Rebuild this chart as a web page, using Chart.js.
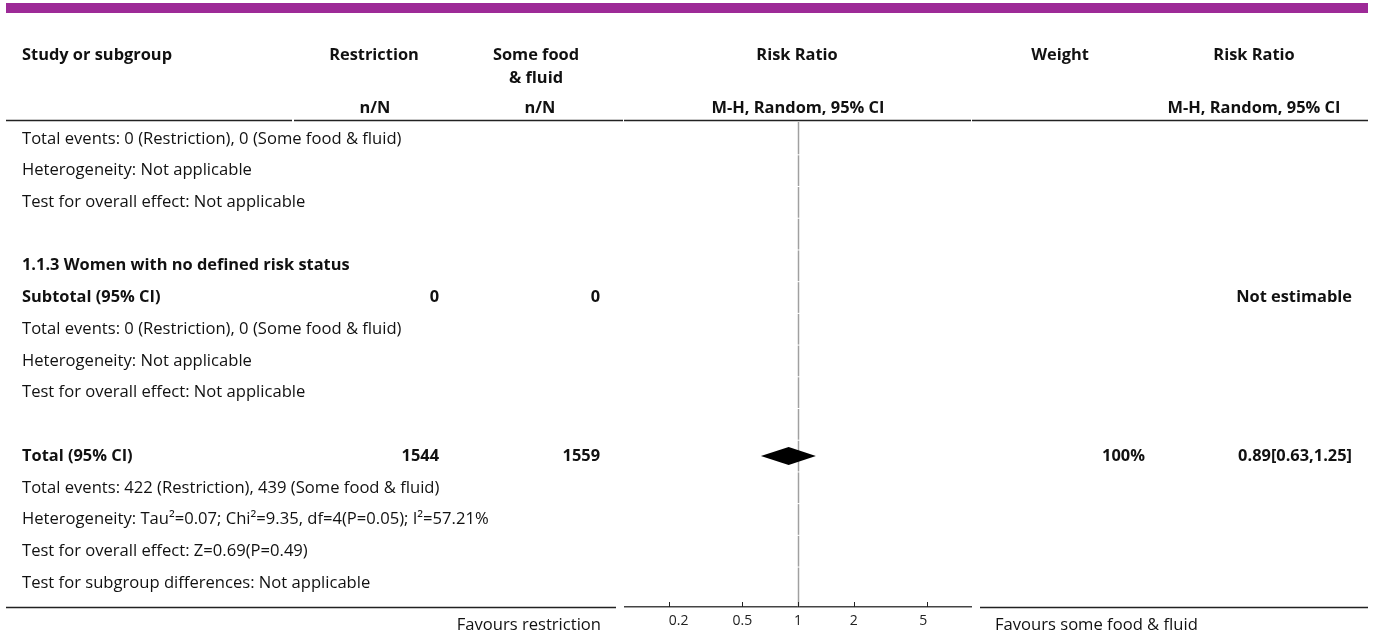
<!DOCTYPE html>
<html>
<head>
<meta charset="utf-8">
<script src="https://cdn.jsdelivr.net/npm/chart.js@4.4.1/dist/chart.umd.min.js"></script>
<style>
  html, body { margin: 0; padding: 0; background: #fff; }
  #wrap { width: 1375px; height: 637px; position: relative; }
</style>
</head>
<body>
<div id="wrap"><canvas id="forest" width="1375" height="637"></canvas></div>
<script>
// ---- Table rows (one entry per row of the forest plot) ----
const rowLabels = [
  "Total events: 0 (Restriction), 0 (Some food & fluid)",
  "Heterogeneity: Not applicable",
  "Test for overall effect: Not applicable",
  "",
  "1.1.3 Women with no defined risk status",
  "Subtotal (95% CI)",
  "Total events: 0 (Restriction), 0 (Some food & fluid)",
  "Heterogeneity: Not applicable",
  "Test for overall effect: Not applicable",
  "",
  "Total (95% CI)",
  "Total events: 422 (Restriction), 439 (Some food & fluid)",
  "Heterogeneity: Tau\u00B2=0.07; Chi\u00B2=9.35, df=4(P=0.05); I\u00B2=57.21%",
  "Test for overall effect: Z=0.69(P=0.49)",
  "Test for subgroup differences: Not applicable"
];
const boldRows = [4, 5, 10];
const restrictionN = ["", "", "", "", "", "0", "", "", "", "", "1544", "", "", "", ""];
const someFoodN    = ["", "", "", "", "", "0", "", "", "", "", "1559", "", "", "", ""];
const weightText   = ["", "", "", "", "", "", "", "", "", "", "100%", "", "", "", ""];
const notEstimableRows = [5];

// ---- Pooled estimate (risk ratio, 95% CI) ----
const pooledRow   = [10];
const pooledRR    = [0.89];
const pooledLower = [0.63];
const pooledUpper = [1.25];

// ---- Axis ----
const axisTicks = [0.2, 0.5, 1, 2, 5];
const favoursLeft = "Favours restriction";
const favoursRight = "Favours some food & fluid";

const FONT = "'Open Sans', 'Noto Sans', sans-serif";
const TEXT = "#111";
const BODY = "16.6px " + FONT;
const BOLD = "bold 16.4px " + FONT;

function fmt(v) { return v.toFixed(2); }

const forestPlugin = {
  id: "forestTable",
  beforeDatasetsDraw(chart) {
    const { ctx } = chart;
    const x = chart.scales.x, y = chart.scales.y;
    // line of no effect, drawn as one segment per row
    const px = Math.round(x.getPixelForValue(1)) + 0.5;
    ctx.save();
    ctx.strokeStyle = "#a0a0a0";
    ctx.lineWidth = 1.5;
    for (let i = 0; i < rowLabels.length; i++) {
      const top = i === 0 ? chart.chartArea.top : y.getPixelForValue(i - 0.5) + 0.5;
      const bot = i === rowLabels.length - 1 ? chart.chartArea.bottom : y.getPixelForValue(i + 0.5) - 0.5;
      ctx.beginPath();
      ctx.moveTo(px, top);
      ctx.lineTo(px, bot);
      ctx.stroke();
    }
    ctx.restore();
  },
  afterDatasetsDraw(chart) {
    const { ctx } = chart;
    const x = chart.scales.x, y = chart.scales.y;
    // pooled diamond
    ctx.save();
    ctx.fillStyle = "#000";
    for (let k = 0; k < pooledRR.length; k++) {
      const cy = y.getPixelForValue(pooledRow[k]);
      const l = x.getPixelForValue(pooledLower[k]);
      const c = x.getPixelForValue(pooledRR[k]);
      const r = x.getPixelForValue(pooledUpper[k]);
      ctx.beginPath();
      ctx.moveTo(l, cy);
      ctx.lineTo(c, cy - 9);
      ctx.lineTo(r, cy);
      ctx.lineTo(c, cy + 9);
      ctx.closePath();
      ctx.fill();
    }
    ctx.restore();
  },
  afterDraw(chart) {
    const { ctx } = chart;
    const x = chart.scales.x, y = chart.scales.y;
    const area = chart.chartArea;
    ctx.save();

    // top banner
    ctx.fillStyle = "#9d2a97";
    ctx.fillRect(6, 3, 1362, 10);

    // header rule and bottom rule
    ctx.strokeStyle = "#222";
    ctx.lineWidth = 1.5;
    const hline = (yy, segs) => {
      segs.forEach(([a, b]) => { ctx.beginPath(); ctx.moveTo(a, yy); ctx.lineTo(b, yy); ctx.stroke(); });
    };
    hline(120.5, [[6, 292], [294, 623], [624, 971], [972, 1368]]);
    hline(area.bottom + 0.5, [[6, 616], [980, 1368]]);

    // upward tick marks on the risk-ratio axis
    ctx.strokeStyle = "#222";
    ctx.lineWidth = 1;
    axisTicks.forEach(v => {
      const tx = Math.round(x.getPixelForValue(v)) + 0.5;
      ctx.beginPath();
      ctx.moveTo(tx, area.bottom);
      ctx.lineTo(tx, area.bottom - 5);
      ctx.stroke();
    });

    // column headers
    ctx.fillStyle = TEXT;
    ctx.textBaseline = "middle";
    ctx.font = BOLD;
    const t = (s, xx, yy, align) => { ctx.textAlign = align; ctx.fillText(s, xx, yy); };
    t("Study or subgroup", 22, 55, "left");
    t("Restriction", 374, 55, "center");
    t("Some food", 536, 55, "center");
    t("& fluid", 536, 78, "center");
    t("Risk Ratio", 797, 55, "center");
    t("Weight", 1060, 55, "center");
    t("Risk Ratio", 1254, 55, "center");
    t("n/N", 375, 108, "center");
    t("n/N", 540, 108, "center");
    t("M-H, Random, 95% CI", 798, 108, "center");
    t("M-H, Random, 95% CI", 1254, 108, "center");

    // table rows
    for (let i = 0; i < rowLabels.length; i++) {
      const cy = y.getPixelForValue(i);
      const bold = boldRows.includes(i);
      ctx.font = bold ? BOLD : BODY;
      if (rowLabels[i]) t(rowLabels[i], 22, cy, "left");
      ctx.font = BOLD;
      if (restrictionN[i]) t(restrictionN[i], 439, cy, "right");
      if (someFoodN[i]) t(someFoodN[i], 600, cy, "right");
      if (weightText[i]) t(weightText[i], 1145, cy, "right");
      if (notEstimableRows.includes(i)) t("Not estimable", 1352, cy, "right");
      const k = pooledRow.indexOf(i);
      if (k >= 0) t(fmt(pooledRR[k]) + "[" + fmt(pooledLower[k]) + "," + fmt(pooledUpper[k]) + "]", 1352, cy, "right");
    }

    // favours labels
    ctx.font = BODY;
    t(favoursLeft, 601, 625, "right");
    t(favoursRight, 995, 625, "left");
    ctx.restore();
  }
};

new Chart(document.getElementById("forest"), {
  type: "scatter",
  data: {
    datasets: [{
      label: "Total (95% CI)",
      data: pooledRR.map((v, k) => ({ x: v, y: pooledRow[k] })),
      pointRadius: 0
    }]
  },
  options: {
    responsive: false,
    animation: false,
    devicePixelRatio: 1,
    layout: { padding: { left: 625, right: 404, top: 122, bottom: 0 } },
    plugins: { legend: { display: false }, tooltip: { enabled: false } },
    scales: {
      x: {
        type: "logarithmic",
        min: 0.1159,
        max: 8.63,
        position: "bottom",
        afterBuildTicks: s => { s.ticks = axisTicks.map(v => ({ value: v })); },
        afterFit: s => { s.height = 30; },
        grid: { display: false, drawTicks: false, tickLength: 0 },
        border: { display: true, color: "#444", width: 1.5 },
        ticks: {
          autoSkip: false, maxRotation: 0, minRotation: 0, padding: 6,
          align: "inner",
          color: "#222", font: { family: FONT, size: 14 },
          callback: v => String(v)
        }
      },
      y: { type: "linear", min: -0.535, max: 14.76, reverse: true, display: false }
    }
  },
  plugins: [forestPlugin]
});
</script>
</body>
</html>
